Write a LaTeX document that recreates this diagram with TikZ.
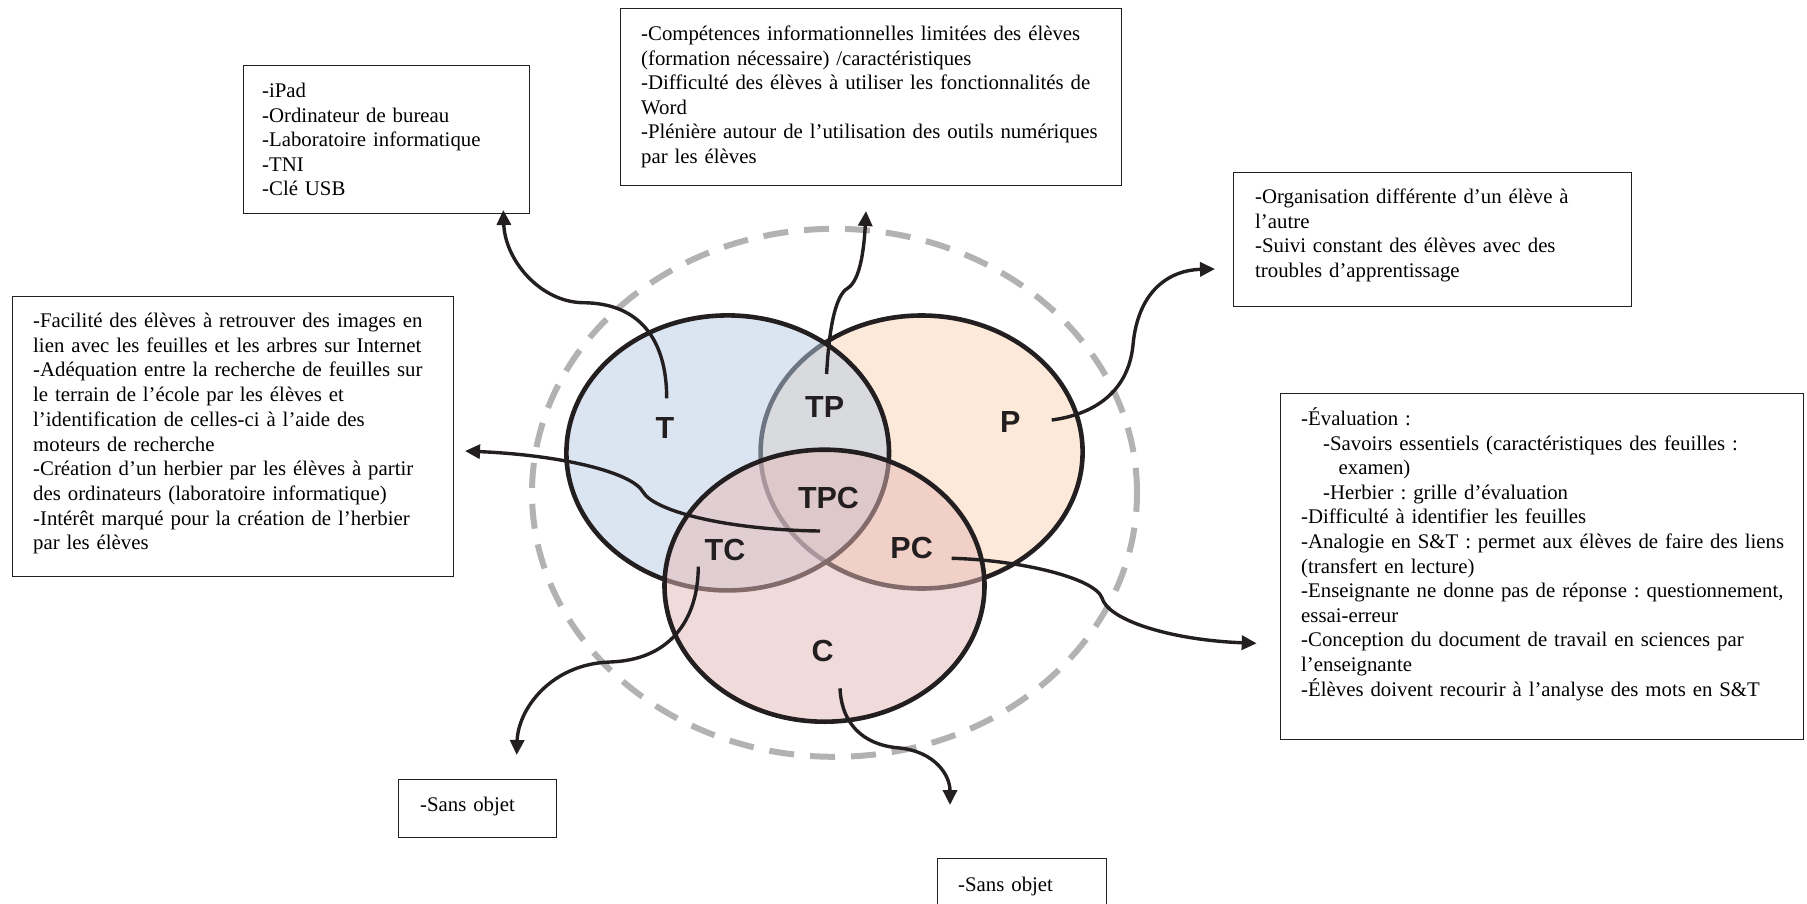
\documentclass[tikz,border=0pt]{standalone}
\usepackage{fontspec}
\setmainfont{Liberation Serif}
\newfontfamily\venfont{Liberation Sans}
\usetikzlibrary{arrows.meta,shapes.geometric}

\definecolor{ink}{RGB}{35,31,32}
\definecolor{haloGray}{RGB}{178,178,178}
\definecolor{techBlue}{RGB}{184,204,228}
\definecolor{pedaPeach}{RGB}{251,212,180}
\definecolor{contRose}{RGB}{229,184,183}

\tikzset{
  setshape/.style={ellipse, draw=ink, line width=4.6pt, fill opacity=0.5, inner sep=0pt},
  halo/.style={ellipse, draw=haloGray, line width=6pt, dash pattern=on 25pt off 16pt, inner sep=0pt},
  infobox/.style={rectangle, draw=ink, line width=1.4pt, inner sep=0pt, anchor=north west},
  infotext/.style={anchor=base west, inner sep=0pt, text width=600pt, align=left,
    font=\fontsize{20.8pt}{24.6pt}\selectfont\frenchspacing},
  link/.style={draw=ink, line width=3.4pt, -{Triangle[length=15pt,width=14pt]}},
  setlabel/.style={font=\venfont\bfseries\fontsize{30.5pt}{32pt}\selectfont, text=ink, inner sep=0pt},
}

\begin{document}
\begin{tikzpicture}[x=1pt,y=-1pt]
\useasboundingbox (0,0) rectangle (1807,903);
\clip (0,0) rectangle (1807,903);
\fill[white] (0,0) rectangle (1807,903);

% outer dashed frame of the model
\node[halo, minimum width=605pt, minimum height=528pt] (frame) at (834.5,492.8) {};

% the three overlapping sets: P below T, C on top
\node[setshape, fill=pedaPeach, minimum width=322pt, minimum height=273pt] (setP) at (921.6,452) {};
\node[setshape, fill=techBlue, minimum width=322.6pt, minimum height=275pt] (setT) at (727.7,452.9) {};
\node[setshape, fill=contRose, minimum width=320pt, minimum height=272pt] (setC) at (824.5,585.7) {};

% region labels
\node[setlabel] (lblT) at (665,428) {T};
\node[setlabel] (lblTP) at (824.6,407) {TP};
\node[setlabel] (lblP) at (1010.4,422) {P};
\node[setlabel] (lblTPC) at (828.5,498) {TPC};
\node[setlabel] (lblTC) at (725,550) {TC};
\node[setlabel] (lblPC) at (911.6,547.8) {PC};
\node[setlabel] (lblC) at (822.6,651) {C};

% comment boxes
\node[infobox, minimum width=286pt, minimum height=148pt] (boxT) at (243,65) {};
\node[infotext] (txtT) at (262,97.5) {-iPad\\
-Ordinateur de bureau\\
-Laboratoire informatique\\
-TNI\\
-Clé USB};

\node[infobox, minimum width=501pt, minimum height=176.5pt] (boxTP) at (620,8) {};
\node[infotext, font=\fontsize{20.8pt}{24.5pt}\selectfont\frenchspacing] (txtTP) at (641,40.5) {-Compétences informationnelles limitées des élèves\\
(formation nécessaire) /caractéristiques\\
-Difficulté des élèves à utiliser les fonctionnalités de\\
Word\\
-Plénière autour de l’utilisation des outils numériques\\
par les élèves};

\node[infobox, minimum width=398pt, minimum height=134pt] (boxP) at (1233,172) {};
\node[infotext] (txtP) at (1255,203.5) {-Organisation différente d’un élève à\\
l’autre\\
-Suivi constant des élèves avec des\\
troubles d’apprentissage};

\node[infobox, minimum width=441pt, minimum height=280pt] (boxTPC) at (12,296) {};
\node[infotext, font=\fontsize{20.8pt}{24.7pt}\selectfont\frenchspacing] (txtTPC) at (33,327.5) {-Facilité des élèves à retrouver des images en\\
lien avec les feuilles et les arbres sur Internet\\
-Adéquation entre la recherche de feuilles sur\\
le terrain de l’école par les élèves et\\
l’identification de celles-ci à l’aide des\\
moteurs de recherche\\
-Création d’un herbier par les élèves à partir\\
des ordinateurs (laboratoire informatique)\\
-Intérêt marqué pour la création de l’herbier\\
par les élèves};

\node[infobox, minimum width=523pt, minimum height=346pt] (boxPC) at (1280,393) {};
\node[infotext] (txtPC) at (1301,425.5) {-Évaluation :\\
\hspace*{22pt}-Savoirs essentiels (caractéristiques des feuilles :\\
\hspace*{37.5pt}examen)\\
\hspace*{22pt}-Herbier : grille d’évaluation\\
-Difficulté à identifier les feuilles\\
-Analogie en S\&T : permet aux élèves de faire des liens\\
(transfert en lecture)\\
-Enseignante ne donne pas de réponse : questionnement,\\
essai-erreur\\
-Conception du document de travail en sciences par\\
l’enseignante\\
-Élèves doivent recourir à l’analyse des mots en S\&T};

\node[infobox, minimum width=158pt, minimum height=58pt] (boxTC) at (398,779) {};
\node[infotext] (txtTC) at (420,811.5) {-Sans objet};

\node[infobox, minimum width=169pt, minimum height=70pt] (boxC) at (937,858) {};
\node[infotext] (txtC) at (958,891.5) {-Sans objet};

% connector ends
\coordinate (fromT) at (666.7,398.3);   \coordinate (toT) at (503.3,210);
\coordinate (fromTP) at (826.6,374);    \coordinate (toTP) at (866,211);
\coordinate (fromP) at (1051.7,420);    \coordinate (toP) at (1215,269);
\coordinate (fromTPC) at (820,531);     \coordinate (toTPC) at (465,451);
\coordinate (fromPC) at (951.7,558.3);  \coordinate (toPC) at (1256.7,643.3);
\coordinate (fromTC) at (698.3,566.7);  \coordinate (toTC) at (516.7,755);
\coordinate (fromC) at (840,688.3);     \coordinate (toC) at (950,805);

% curved connectors from each region to its box
\draw[link] (fromT) .. controls (666.7,340) and (640,303) .. (583,302.7)
  .. controls (540,302) and (505,260) .. (toT);
\draw[link] (fromTP) .. controls (829,330) and (835,295) .. (848,288)
  .. controls (860,280) and (864,250) .. (toTP);
\draw[link] (fromP) .. controls (1090,415) and (1128,395) .. (1133,345)
  .. controls (1138,290) and (1170,270) .. (toP);
\draw[link] (fromTPC) .. controls (730,530) and (655,512) .. (643,492)
  .. controls (632,472) and (560,455) .. (toTPC);
\draw[link] (fromPC) .. controls (1020,560) and (1095,578) .. (1102,598)
  .. controls (1108,620) and (1170,640) .. (toPC);
\draw[link] (fromTC) .. controls (698,620) and (670,660) .. (610,662)
  .. controls (550,664) and (518,710) .. (toTC);
\draw[link] (fromC) .. controls (842,730) and (870,746) .. (900,748)
  .. controls (935,752) and (950,775) .. (toC);
\end{tikzpicture}
\end{document}
